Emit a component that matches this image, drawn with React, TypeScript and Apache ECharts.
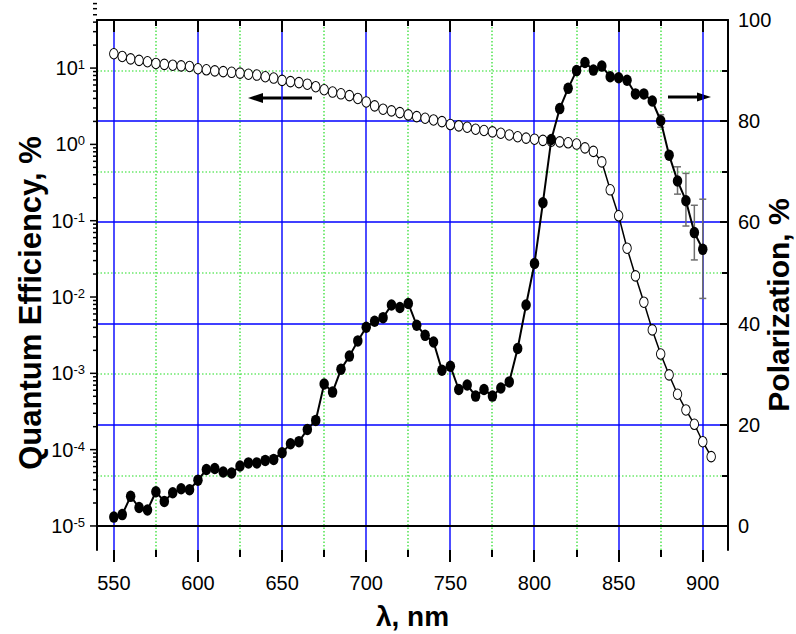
import React, { useEffect, useRef } from "react";
import * as echarts from "echarts";

// Wavelengths (nm)
const wavelengths = [
  550, 555, 560, 565, 570, 575, 580, 585, 590, 595,
  600, 605, 610, 615, 620, 625, 630, 635, 640, 645,
  650, 655, 660, 665, 670, 675, 680, 685, 690, 695,
  700, 705, 710, 715, 720, 725, 730, 735, 740, 745,
  750, 755, 760, 765, 770, 775, 780, 785, 790, 795,
  800, 805, 810, 815, 820, 825, 830, 835, 840, 845,
  850, 855, 860, 865, 870, 875, 880, 885, 890, 895,
  900, 905,
];

// Quantum efficiency, % (open circles, left log axis)
const quantumEfficiency = [
  15.4, 14.2, 13.2, 12.6, 12.1, 11.5, 11.2, 10.9, 10.7, 10.5,
  9.8, 9.5, 9.2, 9.0, 8.8, 8.6, 8.3, 8.1, 7.7, 7.4,
  6.9, 6.65, 6.45, 6.15, 5.7, 5.2, 4.85, 4.6, 4.35, 4.0,
  3.6, 3.2, 2.89, 2.75, 2.61, 2.44, 2.31, 2.2, 2.09, 1.99,
  1.82, 1.75, 1.68, 1.58, 1.52, 1.46, 1.4, 1.33, 1.26, 1.21,
  1.17, 1.13, 1.1, 1.08, 1.05, 1.01, 0.9, 0.81, 0.59, 0.254,
  0.116, 0.0436, 0.0189, 0.00855, 0.00371, 0.00179, 0.000953, 0.000532, 0.000331, 0.000215,
  0.000127, 0.0000809,
];

// Polarization, % (filled circles, right axis), 550..900 nm
const polarization = [
  1.8, 2.3, 5.9, 3.7, 3.2, 6.8, 4.9, 6.6, 7.4, 7.2,
  9.1, 11.2, 11.4, 10.7, 10.5, 11.9, 12.5, 12.5, 13.0, 13.2,
  14.5, 16.3, 16.7, 19.1, 20.9, 28.1, 26.5, 31.0, 33.6, 36.6,
  39.3, 40.5, 41.2, 43.7, 43.2, 44.0, 39.7, 37.7, 36.4, 30.8,
  31.6, 27.0, 27.9, 25.7, 27.0, 25.7, 27.3, 28.5, 35.1, 43.7,
  51.9, 63.9, 76.4, 82.5, 86.5, 90.0, 91.6, 90.1, 90.9, 88.8,
  88.6, 88.1, 85.4, 85.4, 84.0, 80.1, 73.3, 68.2, 64.3, 58.0,
  54.7,
];

// Polarization error bars
const errWavelengths = [875, 885, 890, 895, 900];
const errLow = [78.8, 65.6, 59.3, 52.6, 45.0];
const errHigh = [81.3, 71.0, 69.7, 63.4, 64.6];

// Ticks
const xMajorTicks = [550, 600, 650, 700, 750, 800, 850, 900];
const xMinorTicks = [575, 625, 675, 725, 775, 825, 875];
const qeDecades = [-5, -4, -3, -2, -1, 0, 1];
const qeMantissas = [2, 3, 4, 5, 6, 7, 8, 9];
const polMajorTicks = [0, 20, 40, 60, 80, 100];
const polMinorTicks = [10, 30, 50, 70, 90];

const NARROW = "'Liberation Sans Narrow', 'Arial Narrow', 'Liberation Sans', Arial, sans-serif";
const SANS = "'Liberation Sans', Arial, sans-serif";
const BLUE = "#0000ff";
const GREEN = "#22dd22";
const BLACK = "#000";

const X_MIN = 540;
const X_MAX = 915;
const LOG_MIN = Math.pow(10, -5.315);
const LOG_MAX = Math.pow(10, 1.63);
const POL_MIN = -4.7;
const POL_MAX = 100;

export default function App() {
  const ref = useRef<HTMLDivElement>(null);

  useEffect(() => {
    if (!ref.current) return;
    const chart = echarts.init(ref.current, undefined, { renderer: "svg" });

    const qeMajor = qeDecades.map((d) => Math.pow(10, d));
    const qeMinor: number[] = [];
    qeDecades.forEach((d) => qeMantissas.forEach((m) => qeMinor.push(m * Math.pow(10, d))));

    const qeData = wavelengths.map((w, i) => [w, quantumEfficiency[i]]);
    const polData = polarization.map((p, i) => [wavelengths[i], p]);
    const errData = errWavelengths.map((w, i) => [w, errLow[i], errHigh[i]]);

    const ellipse = "path://M0,0A1,1,0,1,1,0,2A1,1,0,1,1,0,0Z";

    // vertical grid lines at x values
    const vGrid = (values: number[], style: any) => ({
      type: "custom",
      xAxisIndex: 0,
      yAxisIndex: 1,
      silent: true,
      clip: false,
      z: 0,
      data: values.map((v) => [v, 50]),
      renderItem: (params: any, api: any) => {
        const cs = params.coordSys;
        const x = Math.round(api.coord([api.value(0), 50])[0]);
        return { type: "line", shape: { x1: x, y1: cs.y, x2: x, y2: cs.y + cs.height }, style };
      },
    });
    // horizontal grid lines at polarization values
    const hGrid = (values: number[], style: any) => ({
      type: "custom",
      xAxisIndex: 0,
      yAxisIndex: 1,
      silent: true,
      clip: false,
      z: 0,
      data: values.map((v) => [700, v]),
      renderItem: (params: any, api: any) => {
        const cs = params.coordSys;
        const y = Math.round(api.coord([700, api.value(1)])[1]);
        return { type: "line", shape: { x1: cs.x, y1: y, x2: cs.x + cs.width, y2: y }, style };
      },
    });
    const tickStyle = { stroke: BLACK, lineWidth: 2 };
    // x ticks: outward at bottom, inward at top
    const xTicks = (values: number[], lenBottom: number, lenTop: number) => ({
      type: "custom",
      xAxisIndex: 0,
      yAxisIndex: 1,
      silent: true,
      clip: false,
      z: 10,
      data: values.map((v) => [v, 50]),
      renderItem: (params: any, api: any) => {
        const cs = params.coordSys;
        const x = Math.round(api.coord([api.value(0), 50])[0]);
        const yb = cs.y + cs.height;
        return {
          type: "group",
          children: [
            { type: "line", shape: { x1: x, y1: yb, x2: x, y2: yb + lenBottom }, style: tickStyle },
            { type: "line", shape: { x1: x, y1: cs.y, x2: x, y2: cs.y + lenTop }, style: tickStyle },
          ],
        };
      },
    });
    // left log-axis ticks, outward
    const leftTicks = (values: number[], len: number) => ({
      type: "custom",
      xAxisIndex: 0,
      yAxisIndex: 0,
      silent: true,
      clip: false,
      z: 10,
      data: values.map((v) => [700, v]),
      renderItem: (params: any, api: any) => {
        const cs = params.coordSys;
        const y = api.coord([700, api.value(1)])[1];
        return { type: "line", shape: { x1: cs.x - len, y1: y, x2: cs.x, y2: y }, style: { stroke: BLACK, lineWidth: 1.5 } };
      },
    });
    // right axis ticks, inward
    const rightTicks = (values: number[], len: number) => ({
      type: "custom",
      xAxisIndex: 0,
      yAxisIndex: 1,
      silent: true,
      clip: false,
      z: 10,
      data: values.map((v) => [700, v]),
      renderItem: (params: any, api: any) => {
        const cs = params.coordSys;
        const y = Math.round(api.coord([700, api.value(1)])[1]);
        const xr = cs.x + cs.width;
        return { type: "line", shape: { x1: xr - len, y1: y, x2: xr, y2: y }, style: tickStyle };
      },
    });

    const blueStyle = { stroke: BLUE, lineWidth: 1.4 };
    const greenStyle = { stroke: GREEN, lineWidth: 1.2, lineDash: [1.5, 2] };

    chart.setOption({
      animation: false,
      backgroundColor: "#fff",
      grid: { left: 97, top: 20, right: 68, bottom: 84, containLabel: false, outerBoundsMode: "none" },
      xAxis: [
        {
          type: "value",
          min: X_MIN,
          max: X_MAX,
          position: "bottom",
          name: "λ, nm",
          nameLocation: "middle",
          nameGap: 52,
          nameMoveOverlap: false,
          nameTextStyle: { fontFamily: SANS, fontWeight: "bold", fontSize: 28, color: BLACK },
          axisLine: { show: true, lineStyle: { color: BLACK, width: 2 } },
          axisTick: { show: false },
          axisLabel: { show: true, customValues: xMajorTicks, margin: 23, fontSize: 20, fontFamily: NARROW, color: BLACK },
          splitLine: { show: false },
          minorTick: { show: false },
          minorSplitLine: { show: false },
        },
        {
          type: "value",
          min: X_MIN,
          max: X_MAX,
          position: "top",
          axisLine: { show: true, lineStyle: { color: BLACK, width: 2 } },
          axisTick: { show: false },
          axisLabel: { show: false },
          splitLine: { show: false },
        },
      ],
      yAxis: [
        {
          type: "log",
          logBase: 10,
          min: LOG_MIN,
          max: LOG_MAX,
          position: "left",
          name: "Quantum Efficiency, %",
          nameLocation: "middle",
          nameRotate: 90,
          nameGap: 51,
          nameMoveOverlap: false,
          nameTextStyle: { fontFamily: SANS, fontWeight: "bold", fontSize: 31, color: BLACK, padding: [0, 36, 0, 0] },
          axisLine: { show: true, lineStyle: { color: BLACK, width: 2 } },
          axisTick: { show: false },
          axisLabel: {
            show: true,
            customValues: qeMajor,
            margin: 12,
            formatter: (v: number) => `{b|10}{s|${Math.round(Math.log10(v))}}`,
            rich: {
              b: { fontSize: 20, fontFamily: NARROW, color: BLACK },
              s: { fontSize: 13, fontFamily: NARROW, color: BLACK, verticalAlign: "top" },
            },
          },
          splitLine: { show: false },
          minorTick: { show: false },
          minorSplitLine: { show: false },
        },
        {
          type: "value",
          min: POL_MIN,
          max: POL_MAX,
          position: "right",
          name: "Polarization, %",
          nameLocation: "middle",
          nameRotate: 90,
          nameGap: 35,
          nameMoveOverlap: false,
          nameTextStyle: { fontFamily: SANS, fontWeight: "bold", fontSize: 30, color: BLACK, padding: [0, 40, 0, 0] },
          axisLine: { show: true, lineStyle: { color: BLACK, width: 2 } },
          axisTick: { show: false },
          axisLabel: { show: true, customValues: polMajorTicks, margin: 10, fontSize: 20, fontFamily: NARROW, color: BLACK },
          splitLine: { show: false },
          minorTick: { show: false },
          minorSplitLine: { show: false },
        },
      ],
      series: [
        vGrid(xMinorTicks, greenStyle),
        hGrid(polMinorTicks, greenStyle),
        vGrid(xMajorTicks, blueStyle),
        hGrid(polMajorTicks, blueStyle),
        xTicks(xMajorTicks, 12, 12),
        xTicks(xMinorTicks, 7, 6),
        leftTicks(qeMajor, 7),
        leftTicks(qeMinor, 4),
        rightTicks(polMajorTicks, 8),
        rightTicks(polMinorTicks, 6),
        {
          name: "Quantum Efficiency",
          type: "line",
          xAxisIndex: 0,
          yAxisIndex: 0,
          data: qeData,
          symbol: ellipse,
          symbolSize: [8.5, 10.5],
          showAllSymbol: true,
          itemStyle: { color: "#fff", borderColor: BLACK, borderWidth: 1 },
          lineStyle: { color: BLACK, width: 1.5 },
          z: 3,
        },
        {
          name: "Error",
          type: "custom",
          xAxisIndex: 0,
          yAxisIndex: 1,
          data: errData,
          encode: { x: 0, y: [1, 2] },
          clip: false,
          renderItem: (params: any, api: any) => {
            const x = api.value(0);
            const lo = api.coord([x, api.value(1)]);
            const hi = api.coord([x, api.value(2)]);
            const w = 3.5;
            const style = { stroke: "#6e6e6e", lineWidth: 1.5 };
            return {
              type: "group",
              children: [
                { type: "line", shape: { x1: lo[0], y1: lo[1], x2: hi[0], y2: hi[1] }, style },
                { type: "line", shape: { x1: lo[0] - w, y1: lo[1], x2: lo[0] + w, y2: lo[1] }, style },
                { type: "line", shape: { x1: hi[0] - w, y1: hi[1], x2: hi[0] + w, y2: hi[1] }, style },
              ],
            };
          },
          z: 4,
        },
        {
          name: "Polarization",
          type: "line",
          xAxisIndex: 0,
          yAxisIndex: 1,
          data: polData,
          symbol: ellipse,
          symbolSize: [9.5, 11.5],
          showAllSymbol: true,
          itemStyle: { color: BLACK },
          lineStyle: { color: BLACK, width: 2 },
          z: 5,
        },
      ],
      graphic: [
        { type: "line", shape: { x1: 312, y1: 98, x2: 258, y2: 98 }, style: { stroke: BLACK, lineWidth: 3 } },
        { type: "polygon", shape: { points: [[248, 98], [263, 93], [263, 103]] }, style: { fill: BLACK } },
        { type: "line", shape: { x1: 668, y1: 97, x2: 700, y2: 97 }, style: { stroke: BLACK, lineWidth: 3 } },
        { type: "polygon", shape: { points: [[711, 97], [697, 92.5], [697, 101.5]] }, style: { fill: BLACK } },
      ],
    });

    return () => chart.dispose();
  }, []);

  return (
    <div
      ref={ref}
      style={{ position: "fixed", left: 0, top: 0, width: 796, height: 634, background: "#fff" }}
    />
  );
}
